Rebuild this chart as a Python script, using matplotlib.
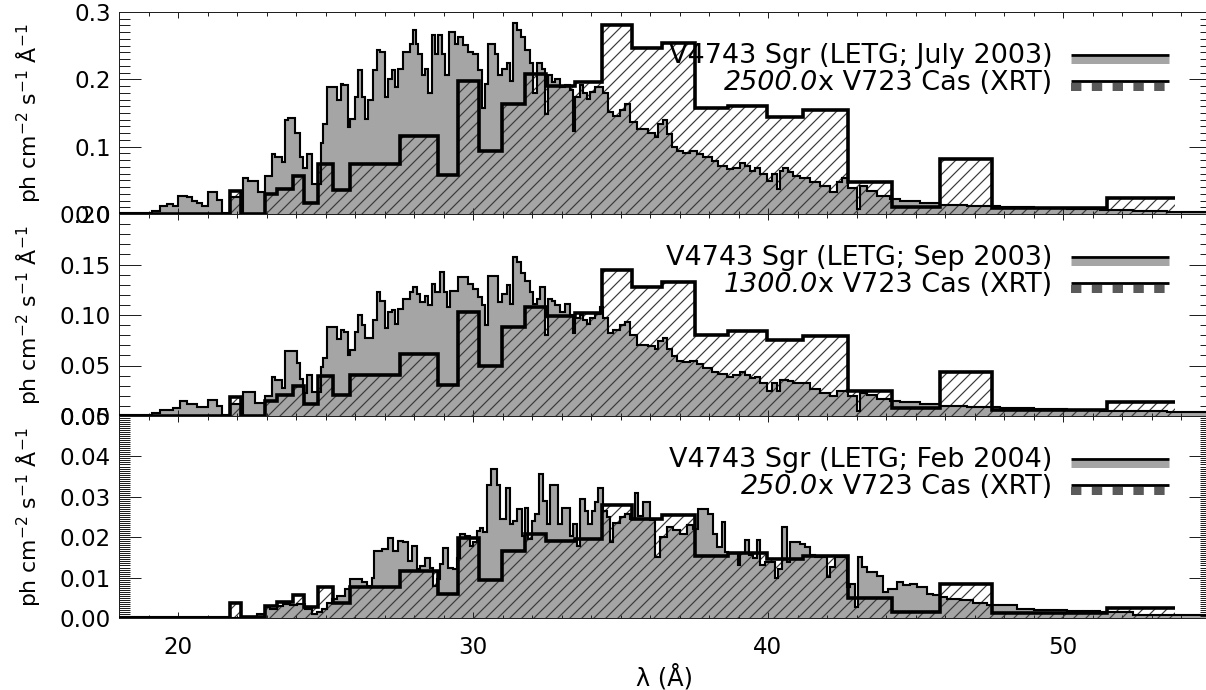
import numpy as np
import matplotlib
matplotlib.use("Agg")
import matplotlib.pyplot as plt
from matplotlib.ticker import MultipleLocator, FormatStrFormatter

# ---------------- data ----------------
# LETG spectra of V4743 Sgr: bin start wavelengths (Angstrom) and flux
letg1_wave = [18.00, 19.11, 19.39, 19.62, 19.84, 20.01, 20.29, 20.46, 20.63, 20.80, 21.03, 21.31, 21.48, 21.76, 22.14,
              22.21, 22.38, 22.72, 22.95, 23.17, 23.29, 23.51, 23.63, 23.74, 23.97, 24.13, 24.25, 24.36, 24.53, 24.84,
              24.93, 25.04, 25.40, 25.51, 25.60, 25.77, 25.83, 26.00, 26.11, 26.23, 26.34, 26.45, 26.62, 26.73, 26.85,
              27.02, 27.13, 27.24, 27.36, 27.47, 27.64, 27.86, 27.98, 28.07, 28.15, 28.26, 28.37, 28.49, 28.60, 28.71,
              28.82, 28.94, 29.05, 29.20, 29.39, 29.50, 29.67, 29.84, 30.01, 30.18, 30.29, 30.41, 30.52, 30.74, 30.86,
              30.97, 31.14, 31.25, 31.37, 31.48, 31.62, 31.76, 31.93, 32.04, 32.16, 32.33, 32.44, 32.55, 32.67, 32.78,
              32.95, 33.12, 33.29, 33.40, 33.46, 33.63, 33.74, 33.85, 33.97, 34.14, 34.42, 34.59, 34.76, 34.98, 35.15,
              35.32, 35.55, 35.94, 36.17, 36.28, 36.45, 36.56, 36.73, 36.90, 37.13, 37.35, 37.58, 37.81, 38.09, 38.32,
              38.60, 38.82, 39.05, 39.22, 39.39, 39.56, 39.73, 39.95, 40.12, 40.29, 40.41, 40.52, 40.69, 40.86, 41.08,
              41.42, 41.76, 42.10, 42.33, 42.50, 42.72, 43.01, 43.12, 43.34, 43.68, 44.14, 44.48, 45.15, 45.83, 46.73,
              47.86, 49.00, 50.12, 51.25, 52.38, 53.51]
letg1_flux = [0.001, 0.0045, 0.012, 0.015, 0.012, 0.027, 0.025, 0.020, 0.017, 0.012, 0.032, 0.021, 0.002, 0.025, 0.002,
              0.054, 0.049, 0.032, 0.057, 0.089, 0.084, 0.077, 0.139, 0.143, 0.120, 0.084, 0.069, 0.089, 0.044, 0.106,
              0.134, 0.188, 0.169, 0.193, 0.191, 0.129, 0.141, 0.174, 0.214, 0.174, 0.141, 0.169, 0.214, 0.243, 0.241,
              0.174, 0.201, 0.214, 0.188, 0.216, 0.241, 0.253, 0.273, 0.253, 0.238, 0.206, 0.216, 0.179, 0.266, 0.238,
              0.266, 0.238, 0.206, 0.271, 0.253, 0.263, 0.251, 0.241, 0.238, 0.214, 0.158, 0.193, 0.253, 0.238, 0.206,
              0.216, 0.224, 0.198, 0.283, 0.273, 0.263, 0.243, 0.224, 0.179, 0.224, 0.216, 0.149, 0.206, 0.196, 0.201,
              0.188, 0.191, 0.184, 0.124, 0.174, 0.191, 0.179, 0.171, 0.181, 0.188, 0.179, 0.151, 0.146, 0.154, 0.164,
              0.136, 0.126, 0.121, 0.114, 0.134, 0.139, 0.119, 0.099, 0.094, 0.091, 0.094, 0.089, 0.084, 0.079, 0.072,
              0.067, 0.069, 0.076, 0.072, 0.064, 0.069, 0.059, 0.049, 0.059, 0.037, 0.064, 0.069, 0.062, 0.057, 0.054,
              0.047, 0.042, 0.032, 0.047, 0.054, 0.039, 0.007, 0.042, 0.034, 0.027, 0.022, 0.020, 0.017, 0.014, 0.012,
              0.010, 0.009, 0.0075, 0.0065, 0.005, 0.0035]

letg2_wave = [18.00, 19.11, 19.39, 19.84, 20.07, 20.29, 20.63, 21.03, 21.31, 21.48, 21.76, 22.14, 22.21, 22.61, 22.95,
              23.17, 23.29, 23.51, 23.63, 24.02, 24.13, 24.25, 24.38, 24.53, 24.84, 24.93, 25.04, 25.40, 25.51, 25.62,
              25.77, 25.83, 26.00, 26.11, 26.23, 26.34, 26.62, 26.73, 26.85, 27.02, 27.13, 27.24, 27.36, 27.47, 27.64,
              27.86, 27.98, 28.09, 28.20, 28.37, 28.49, 28.60, 28.71, 28.88, 29.00, 29.11, 29.22, 29.50, 29.84, 30.01,
              30.18, 30.29, 30.41, 30.52, 30.86, 30.97, 31.14, 31.25, 31.37, 31.48, 31.62, 31.76, 31.93, 32.04, 32.16,
              32.27, 32.44, 32.55, 32.67, 32.78, 32.95, 33.12, 33.29, 33.40, 33.46, 33.63, 33.74, 33.85, 33.97, 34.14,
              34.30, 34.42, 34.59, 34.76, 34.98, 35.15, 35.32, 35.55, 35.94, 36.17, 36.28, 36.45, 36.56, 36.73, 36.90,
              37.13, 37.35, 37.58, 37.81, 38.09, 38.32, 38.60, 38.82, 39.05, 39.22, 39.39, 39.56, 39.73, 39.95, 40.12,
              40.29, 40.41, 40.69, 40.86, 41.08, 41.42, 41.76, 42.10, 42.33, 42.72, 43.01, 43.12, 43.34, 43.68, 44.14,
              44.48, 45.15, 45.83, 46.73, 47.86, 49.00, 50.12, 51.25, 52.38, 53.51]
letg2_flux = [0.0005, 0.003, 0.006, 0.008, 0.0147, 0.012, 0.009, 0.016, 0.010, 0.001, 0.012, 0.001, 0.024, 0.013, 0.020,
              0.039, 0.036, 0.028, 0.064, 0.052, 0.037, 0.023, 0.041, 0.024, 0.049, 0.057, 0.088, 0.076, 0.085, 0.083,
              0.060, 0.065, 0.083, 0.100, 0.090, 0.077, 0.095, 0.123, 0.114, 0.087, 0.103, 0.105, 0.091, 0.106, 0.116,
              0.123, 0.128, 0.121, 0.113, 0.119, 0.110, 0.131, 0.123, 0.143, 0.123, 0.108, 0.124, 0.138, 0.131, 0.126,
              0.118, 0.110, 0.090, 0.139, 0.113, 0.121, 0.130, 0.111, 0.157, 0.152, 0.142, 0.134, 0.123, 0.111, 0.116,
              0.128, 0.080, 0.116, 0.114, 0.110, 0.103, 0.111, 0.100, 0.082, 0.097, 0.100, 0.095, 0.091, 0.097, 0.101,
              0.108, 0.097, 0.082, 0.085, 0.090, 0.093, 0.080, 0.070, 0.069, 0.066, 0.074, 0.077, 0.066, 0.059, 0.054,
              0.053, 0.054, 0.051, 0.048, 0.044, 0.042, 0.039, 0.041, 0.044, 0.041, 0.038, 0.039, 0.033, 0.025, 0.033,
              0.025, 0.036, 0.035, 0.033, 0.033, 0.027, 0.023, 0.020, 0.025, 0.020, 0.0052, 0.023, 0.021, 0.017, 0.015,
              0.014, 0.012, 0.010, 0.0085, 0.0075, 0.0067, 0.006, 0.005, 0.0045, 0.0036]

letg3_wave = [18.00, 21.76, 22.14, 22.67, 22.95, 23.12, 23.34, 23.57, 23.80, 24.02, 24.30, 24.53, 24.70, 24.87, 25.04,
              25.21, 25.38, 25.66, 25.83, 26.23, 26.39, 26.56, 26.64, 26.90, 27.13, 27.30, 27.47, 27.64, 27.81, 27.92,
              28.09, 28.20, 28.37, 28.54, 28.65, 28.77, 28.88, 28.99, 29.16, 29.33, 29.45, 29.56, 29.73, 29.90, 30.01,
              30.12, 30.24, 30.35, 30.49, 30.60, 30.82, 30.91, 31.12, 31.25, 31.37, 31.48, 31.65, 31.76, 31.87, 31.99,
              32.10, 32.25, 32.38, 32.50, 32.61, 32.89, 33.00, 33.29, 33.40, 33.51, 33.63, 33.80, 33.91, 34.02, 34.14,
              34.25, 34.40, 34.53, 34.65, 34.76, 34.98, 35.15, 35.32, 35.49, 35.60, 35.77, 35.99, 36.17, 36.34, 36.56,
              36.79, 37.02, 37.24, 37.47, 37.64, 37.98, 38.15, 38.26, 38.43, 38.54, 38.66, 38.99, 39.05, 39.22, 39.34,
              39.50, 39.62, 39.73, 39.90, 40.24, 40.35, 40.46, 40.63, 40.75, 41.08, 41.25, 41.42, 41.59, 41.99, 42.10,
              42.27, 42.67, 42.78, 42.95, 43.06, 43.18, 43.34, 43.68, 43.91, 44.08, 44.36, 44.59, 44.81, 45.04, 45.38,
              45.60, 45.83, 46.06, 46.51, 46.96, 47.41, 48.43, 49.00, 50.12, 51.25, 52.38]
letg3_flux = [0.0002, 0.0, 0.0003, 0.0011, 0.0026, 0.0022, 0.0030, 0.0034, 0.0032, 0.0034, 0.0022, 0.0010, 0.0014, 0.0022, 0.0038,
              0.0047, 0.0055, 0.0071, 0.0096, 0.0088, 0.0080, 0.0100, 0.0166, 0.0170, 0.0197, 0.0166, 0.0190, 0.0187, 0.0141, 0.0178,
              0.0121, 0.0129, 0.0149, 0.0125, 0.0080, 0.0096, 0.0133, 0.0174, 0.0125, 0.0121, 0.0149, 0.0207, 0.0203, 0.0178, 0.0187,
              0.0216, 0.0224, 0.0212, 0.0330, 0.0368, 0.0330, 0.0245, 0.0323, 0.0233, 0.0240, 0.0269, 0.0203, 0.0273, 0.0195, 0.0240,
              0.0257, 0.0356, 0.0290, 0.0233, 0.0330, 0.0233, 0.0273, 0.0203, 0.0233, 0.0178, 0.0294, 0.0265, 0.0233, 0.0265, 0.0286,
              0.0323, 0.0265, 0.0249, 0.0187, 0.0236, 0.0249, 0.0257, 0.0245, 0.0310, 0.0252, 0.0286, 0.0242, 0.0151, 0.0200, 0.0225,
              0.0217, 0.0208, 0.0229, 0.0220, 0.0271, 0.0258, 0.0208, 0.0176, 0.0238, 0.0164, 0.0160, 0.0131, 0.0160, 0.0193, 0.0156,
              0.0148, 0.0193, 0.0131, 0.0139, 0.0098, 0.0122, 0.0225, 0.0139, 0.0188, 0.0184, 0.0176, 0.0156, 0.0151, 0.0102, 0.0126,
              0.0151, 0.0077, 0.0085, 0.0028, 0.0151, 0.0126, 0.0114, 0.0105, 0.0065, 0.0073, 0.0089, 0.0081, 0.0085, 0.0077, 0.0060,
              0.0056, 0.0052, 0.0048, 0.0044, 0.0037, 0.0032, 0.0023, 0.0020, 0.0017, 0.0015, 0.0007]
letg_end = 55.0

# Scaled XRT spectra of V723 Cas: common bin edges and fluxes
xrt_edges = [18.0, 21.76, 22.14, 22.95, 23.35, 23.91, 24.27, 24.76, 25.26, 25.83, 27.53, 28.82, 29.50, 30.21, 30.97,
             31.76, 32.49, 33.46, 34.38, 35.38, 36.39, 37.53, 38.66, 39.96, 41.19, 42.70, 44.22, 45.83, 47.60, 51.48, 53.78]
xrt1_flux = [0, 0.034, 0, 0.030, 0.037, 0.057, 0.017, 0.074, 0.036, 0.074, 0.116, 0.058, 0.197, 0.093, 0.164,
             0.208, 0.190, 0.196, 0.281, 0.247, 0.254, 0.157, 0.161, 0.144, 0.154, 0.047, 0.010, 0.082, 0.009, 0.024]
xrt2_flux = [0, 0.019, 0, 0.015, 0.021, 0.030, 0.012, 0.040, 0.021, 0.041, 0.061, 0.031, 0.103, 0.050, 0.088,
             0.108, 0.099, 0.102, 0.145, 0.128, 0.133, 0.080, 0.084, 0.0755, 0.079, 0.0248, 0.0075, 0.0435, 0.006, 0.014]
xrt3_flux = [0, 0.0036, 0.0002, 0.0030, 0.0039, 0.0057, 0.0028, 0.0076, 0.0036, 0.0076, 0.0117, 0.0060, 0.0198, 0.0095, 0.0167,
             0.0207, 0.0190, 0.0196, 0.0280, 0.0246, 0.0254, 0.0153, 0.0161, 0.0145, 0.0154, 0.0049, 0.0016, 0.0083, 0.0013, 0.0025]

epochs = ["July 2003", "Sep 2003", "Feb 2004"]
scales = ["2500.0", "1300.0", "250.0"]
ymax = [0.3, 0.20, 0.05]
ymajor = [0.1, 0.05, 0.01]
yminor = [0.01, 0.01, 0.0005]
yfmt = ["%.1f", "%.2f", "%.2f"]
xlim = (18, 55)

# ---------------- style ----------------
W, H, DPI = 1206, 690, 72
plt.rcParams["font.family"] = ["DejaVu Sans"]
plt.rcParams["mathtext.fontset"] = "dejavusans"
plt.rcParams["hatch.linewidth"] = 1.2
plt.rcParams["hatch.color"] = "#3a3a3a"

GRAY = "#a5a5a5"
HATCH = "#3a3a3a"

fig = plt.figure(figsize=(W / DPI, H / DPI), dpi=DPI)

left = 119 / W
width = 1091.5 / W
ph = 202 / H
bottoms = [1 - 214 / H, 1 - 416 / H, 1 - 618 / H]

letg_w = [letg1_wave, letg2_wave, letg3_wave]
letg_f = [letg1_flux, letg2_flux, letg3_flux]
xrt_f = [xrt1_flux, xrt2_flux, xrt3_flux]

for i in range(3):
    ax = fig.add_axes([left, bottoms[i], width, ph])
    le = np.append(np.array(letg_w[i]), letg_end)
    lf = np.array(letg_f[i])
    xe = np.array(xrt_edges)
    xf = np.array(xrt_f[i])

    ax.stairs(lf, le, fill=True, facecolor=GRAY, linewidth=0, zorder=1)
    ax.stairs(xf, xe, fill=True, facecolor="none", edgecolor=HATCH, linewidth=0,
              hatch="//", zorder=2)
    ax.stairs(lf, le, baseline=None, color="black", linewidth=2.1, zorder=3)
    ax.stairs(xf, xe, baseline=None, color="black", linewidth=3.6, zorder=4)

    ax.set_xlim(*xlim)
    ax.set_ylim(0, ymax[i])
    ax.yaxis.set_major_locator(MultipleLocator(ymajor[i]))
    ax.yaxis.set_minor_locator(MultipleLocator(yminor[i]))
    ax.yaxis.set_major_formatter(FormatStrFormatter(yfmt[i]))
    ax.xaxis.set_major_locator(MultipleLocator(10))
    ax.xaxis.set_minor_locator(MultipleLocator(1))

    ax.tick_params(axis="both", which="both", direction="in", top=True, right=True,
                   width=1.0, color="#202020", labelsize=23)
    ax.tick_params(axis="y", which="major", length=22, pad=8)
    ax.tick_params(axis="y", which="minor", length=11)
    ax.tick_params(axis="x", which="major", length=6, pad=18)
    ax.tick_params(axis="x", which="minor", length=3.5)
    if i < 2:
        ax.tick_params(axis="x", labelbottom=False)
    for sp in ax.spines.values():
        sp.set_linewidth(1.0)
        sp.set_color("#202020")
    ax.patch.set_alpha(0)

    ax.text(-0.083, 0.5, r"ph cm$^{-2}$ s$^{-1}$ Å$^{-1}$", transform=ax.transAxes,
            rotation=90, ha="center", va="center", fontsize=22)

    # legend
    tx = 0.855
    ax.text(tx, 0.746, "V4743 Sgr (LETG; %s)" % epochs[i], transform=ax.transAxes,
            ha="right", va="baseline", fontsize=27, zorder=6)
    t2 = ax.text(tx, 0.614, "x V723 Cas (XRT)", transform=ax.transAxes,
                 ha="right", va="baseline", fontsize=27, zorder=6)
    ax.annotate(scales[i], xy=(0, 0.614), xycoords=(t2, "axes fraction"),
                ha="right", va="baseline", fontsize=27, style="italic", zorder=6)
    x0, x1 = 0.872, 0.962
    ax.plot([x0, x1], [0.760, 0.760], transform=ax.transAxes, color=GRAY, lw=7,
            solid_capstyle="butt", zorder=6, clip_on=False)
    ax.plot([x0, x1], [0.787, 0.787], transform=ax.transAxes, color="black", lw=2.8,
            solid_capstyle="butt", zorder=7, clip_on=False)
    ax.plot([x0, x1], [0.630, 0.630], transform=ax.transAxes, color="#5a5a5a", lw=8,
            dashes=(1.3, 1.3), dash_capstyle="butt", zorder=6, clip_on=False)
    ax.plot([x0, x1], [0.657, 0.657], transform=ax.transAxes, color="black", lw=2.8,
            solid_capstyle="butt", zorder=7, clip_on=False)

    if i == 2:
        ax.text(0.5, -0.292, "λ (Å)", transform=ax.transAxes, ha="center", va="center",
                fontsize=24)

fig.savefig("out.png", dpi=DPI)
